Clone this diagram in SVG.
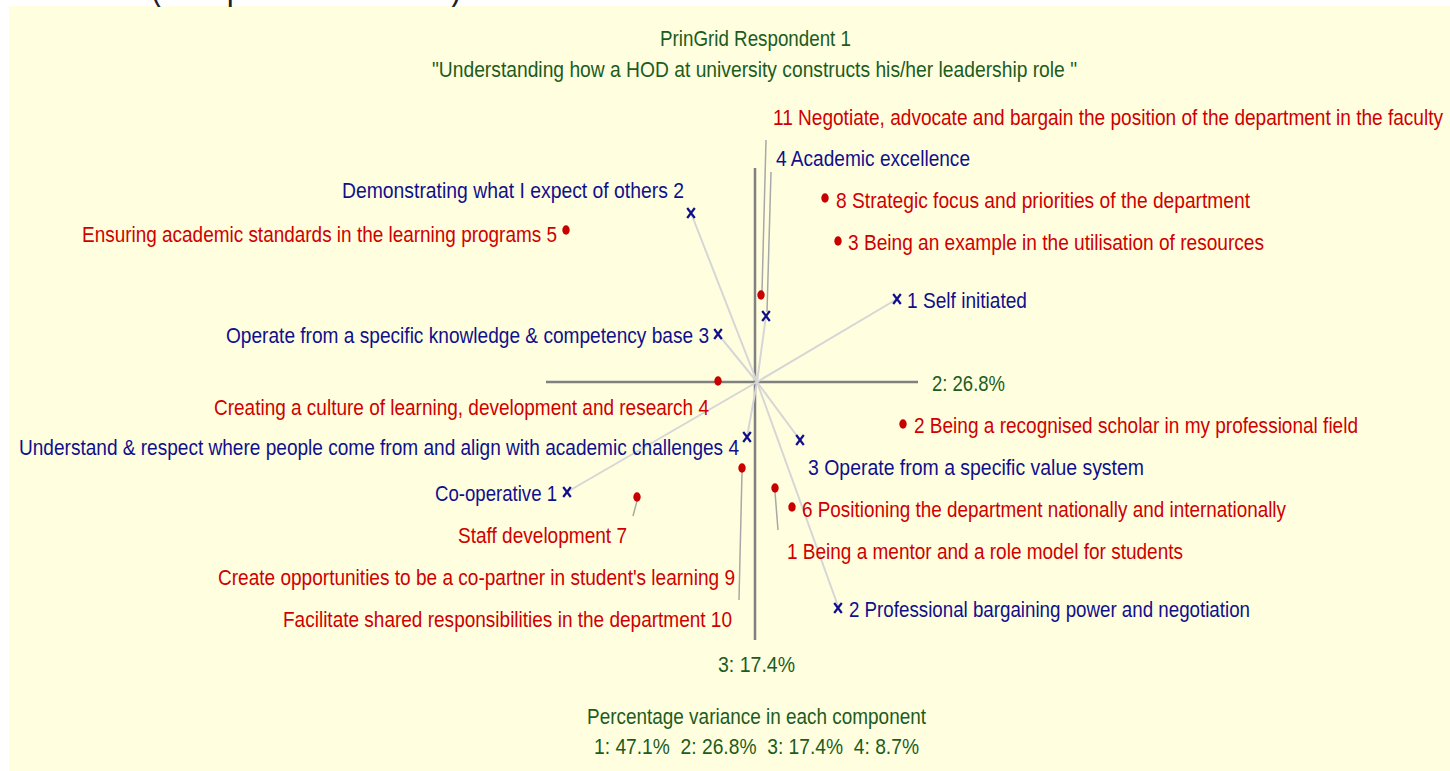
<svg xmlns="http://www.w3.org/2000/svg" width="1450" height="771" viewBox="0 0 1450 771">
<style>
text{font-family:"Liberation Sans Narrow","Liberation Sans",Arial,sans-serif;font-size:22px;}
.g{fill:#1c5c1c;}
.r{fill:#d00000;}
.b{fill:#10108c;}
.axis{stroke:#808080;stroke-width:2.5;}
.ray{stroke:#d6d6d6;stroke-width:2;}
.lead{stroke:#a8a8a8;stroke-width:1.5;}
.dot{fill:#c80000;}
.x{stroke:#10108c;stroke-width:2.2;fill:none;}
</style>
<defs>
<path id="xm" d="M-3.8,-5L3.8,5M3.8,-5L-3.8,5" class="x"/>
<ellipse id="dm" rx="3.7" ry="4.7" class="dot"/>
</defs>
<rect x="0" y="0" width="1450" height="771" fill="#ffffff"/>
<rect x="9" y="6" width="1441" height="765" fill="#ffffe0"/>
<text x="65" y="-1" style="font-size:40px" fill="#222" textLength="397" lengthAdjust="spacingAndGlyphs">Chart (Components 2 and 3)</text>

<g id="title">
<text class="g" x="660" y="46" textLength="191" lengthAdjust="spacingAndGlyphs">PrinGrid Respondent 1</text>
<text class="g" x="432" y="77" textLength="645" lengthAdjust="spacingAndGlyphs">"Understanding how a HOD at university constructs his/her leadership role "</text>
</g>

<g id="connectors">
<line class="axis" x1="546" y1="382" x2="918" y2="382"/>
<line class="axis" x1="755" y1="168" x2="755" y2="640"/>
<line class="ray" x1="757" y1="382" x2="691" y2="213"/>
<line class="ray" x1="757" y1="382" x2="838" y2="606"/>
<line class="ray" x1="757" y1="382" x2="897" y2="299"/>
<line class="ray" x1="757" y1="382" x2="567" y2="492"/>
<line class="ray" x1="757" y1="382" x2="718" y2="334"/>
<line class="ray" x1="757" y1="382" x2="800" y2="440"/>
<line class="ray" x1="757" y1="382" x2="747" y2="437"/>
<line class="ray" x1="757" y1="382" x2="766" y2="316"/>
<line class="lead" x1="762" y1="292" x2="766" y2="140"/>
<line class="lead" x1="767" y1="312" x2="771" y2="172"/>
<line class="lead" x1="742" y1="472" x2="739" y2="600"/>
<line class="lead" x1="775" y1="492" x2="778" y2="530"/>
<line class="lead" x1="637" y1="501" x2="633" y2="516"/>
</g>

<g id="axis-labels">
<text class="g" x="932" y="391" textLength="73" lengthAdjust="spacingAndGlyphs">2: 26.8%</text>
<text class="g" x="718" y="672" textLength="77" lengthAdjust="spacingAndGlyphs">3: 17.4%</text>
</g>

<g id="c2-left"><use href="#xm" x="691" y="213"/><text class="b" x="342" y="198" textLength="342" lengthAdjust="spacingAndGlyphs">Demonstrating what I expect of others 2</text></g>
<g id="e5"><use href="#dm" x="566" y="230"/><text class="r" x="82" y="242" textLength="475" lengthAdjust="spacingAndGlyphs">Ensuring academic standards in the learning programs 5</text></g>
<g id="c3-left"><use href="#xm" x="718" y="334"/><text class="b" x="226" y="343" textLength="483" lengthAdjust="spacingAndGlyphs">Operate from a specific knowledge &amp; competency base 3</text></g>
<g id="e4"><use href="#dm" x="718" y="381"/><text class="r" x="214" y="415" textLength="495" lengthAdjust="spacingAndGlyphs">Creating a culture of learning, development and research 4</text></g>
<g id="c4-left"><use href="#xm" x="747" y="437"/><text class="b" x="19" y="455" textLength="720" lengthAdjust="spacingAndGlyphs">Understand &amp; respect where people come from and align with academic challenges 4</text></g>
<g id="c1-left"><use href="#xm" x="567" y="492"/><text class="b" x="435" y="501" textLength="122" lengthAdjust="spacingAndGlyphs">Co-operative 1</text></g>
<g id="e7"><use href="#dm" x="637" y="497"/><text class="r" x="458" y="543" textLength="169" lengthAdjust="spacingAndGlyphs">Staff development 7</text></g>
<g id="e9"><use href="#dm" x="742" y="468"/><text class="r" x="218" y="585" textLength="517" lengthAdjust="spacingAndGlyphs">Create opportunities to be a co-partner in student's learning 9</text></g>
<g id="e10"><text class="r" x="283" y="627" textLength="449" lengthAdjust="spacingAndGlyphs">Facilitate shared responsibilities in the department 10</text></g>

<g id="e11"><use href="#dm" x="761" y="295"/><text class="r" x="773" y="125" textLength="670" lengthAdjust="spacingAndGlyphs">11 Negotiate, advocate and bargain the position of the department in the faculty</text></g>
<g id="c4-right"><use href="#xm" x="766" y="316"/><text class="b" x="776" y="166" textLength="194" lengthAdjust="spacingAndGlyphs">4 Academic excellence</text></g>
<g id="e8"><use href="#dm" x="825" y="198"/><text class="r" x="836" y="208" textLength="414" lengthAdjust="spacingAndGlyphs">8 Strategic focus and priorities of the department</text></g>
<g id="e3"><use href="#dm" x="838" y="241"/><text class="r" x="848" y="250" textLength="416" lengthAdjust="spacingAndGlyphs">3 Being an example in the utilisation of resources</text></g>
<g id="c1-right"><use href="#xm" x="897" y="299"/><text class="b" x="907" y="308" textLength="120" lengthAdjust="spacingAndGlyphs">1 Self initiated</text></g>
<g id="e2"><use href="#dm" x="903" y="424"/><text class="r" x="914" y="433" textLength="444" lengthAdjust="spacingAndGlyphs">2 Being a recognised scholar in my professional field</text></g>
<g id="c3-right"><use href="#xm" x="800" y="440"/><text class="b" x="808" y="475" textLength="336" lengthAdjust="spacingAndGlyphs">3 Operate from a specific value system</text></g>
<g id="e6"><use href="#dm" x="792" y="507"/><text class="r" x="802" y="517" textLength="484" lengthAdjust="spacingAndGlyphs">6 Positioning the department nationally and internationally</text></g>
<g id="e1"><use href="#dm" x="775" y="488"/><text class="r" x="787" y="559" textLength="396" lengthAdjust="spacingAndGlyphs">1 Being a mentor and a role model for students</text></g>
<g id="c2-right"><use href="#xm" x="838" y="608"/><text class="b" x="849" y="617" textLength="401" lengthAdjust="spacingAndGlyphs">2 Professional bargaining power and negotiation</text></g>

<g id="variance">
<text class="g" x="587" y="724" textLength="339" lengthAdjust="spacingAndGlyphs">Percentage variance in each component</text>
<text class="g" x="594" y="754" textLength="325" lengthAdjust="spacingAndGlyphs" xml:space="preserve">1: 47.1%  2: 26.8%  3: 17.4%  4: 8.7%</text>
</g>
</svg>
